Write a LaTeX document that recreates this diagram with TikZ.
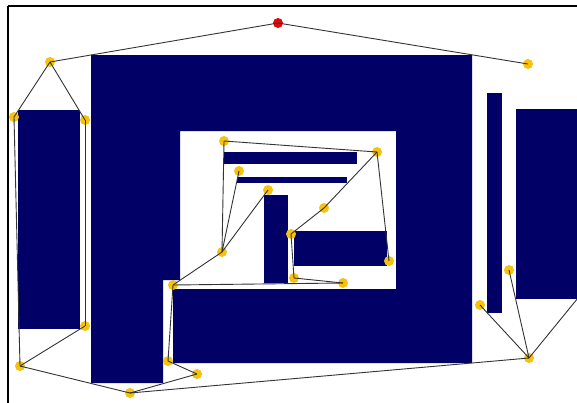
\documentclass[tikz,border=0pt]{standalone}
\usepackage{xcolor}
\usepackage{tikz}

\definecolor{blok}{RGB}{0,0,102}
\definecolor{geel}{RGB}{246,194,14}
\definecolor{rood}{RGB}{222,10,10}

\tikzset{
  hoek/.style={circle, fill=geel, inner sep=0pt, minimum size=5pt},
  start/.style={circle, fill=rood, inner sep=0pt, minimum size=5pt},
  pad/.style={draw=black!80, line width=0.45pt}
}

\begin{document}
\begin{tikzpicture}[x=0.5pt, y=-0.5pt]
  \clip (0,0) rectangle (577,402);
  \fill[white] (0,0) rectangle (577,402);
  % obstakels
  \fill[blok] (18,110) rectangle (80,329);
  \fill[blok] (91,55) -- (472,55) -- (472,363) -- (173,363) -- (173,289)
    -- (396,289) -- (396,131) -- (180,131) -- (180,280) -- (163,280)
    -- (163,383) -- (91,383) -- cycle;
  \fill[blok] (224,152) rectangle (357,164);
  \fill[blok] (237,177) rectangle (347,183);
  \fill[blok] (264,195) rectangle (288,283);
  \fill[blok] (294,231) rectangle (387,266);
  \fill[blok] (487,93) rectangle (502,313);
  \fill[blok] (516,109) rectangle (600,299);
  % kader
  \draw[line width=1pt] (8,6) -- (600,6);
  \draw[line width=1pt] (8,6) -- (8,420);

  % knopen
  \node[start] (r) at (278,23) {};
  \node[hoek] (p1) at (50,62) {};
  \node[hoek] (p2) at (14,117) {};
  \node[hoek] (p3) at (85,120) {};
  \node[hoek] (p4) at (528,64) {};
  \node[hoek] (p5) at (224,141) {};
  \node[hoek] (p6) at (377,152) {};
  \node[hoek] (p7) at (239,171) {};
  \node[hoek] (p8) at (268,190) {};
  \node[hoek] (p9) at (324,208) {};
  \node[hoek] (p10) at (291,234) {};
  \node[hoek] (p11) at (222,252) {};
  \node[hoek] (p12) at (389,261) {};
  \node[hoek] (p13) at (294,278) {};
  \node[hoek] (p14) at (343,283) {};
  \node[hoek] (p15) at (173,285) {};
  \node[hoek] (p16) at (85,326) {};
  \node[hoek] (p17) at (20,366) {};
  \node[hoek] (p18) at (168,361) {};
  \node[hoek] (p19) at (197,374) {};
  \node[hoek] (p20) at (130,393) {};
  \node[hoek] (p21) at (509,270) {};
  \node[hoek] (p22) at (480,305) {};
  \node[hoek] (p23) at (529,358) {};
  \coordinate (buiten) at (600,271);

  % boom
  \foreach \a/\b in {r/p1, r/p4, p1/p2, p1/p3, p2/p17, p3/p16, p16/p17,
      p17/p20, p20/p19, p19/p18, p18/p15, p15/p11, p15/p14, p14/p13,
      p13/p10, p10/p9, p9/p6, p6/p12, p6/p5, p5/p11, p11/p7, p11/p8,
      p20/p23, p23/p22, p23/p21}
    \draw[pad] (\a.center) -- (\b.center);
  \draw[pad] (p23.center) -- (buiten);
\end{tikzpicture}
\end{document}
